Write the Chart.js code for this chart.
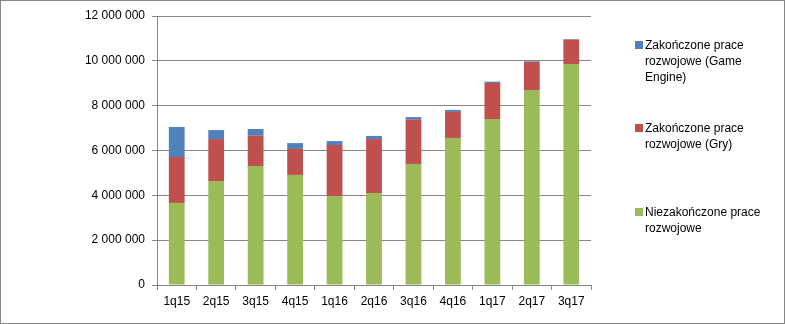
<!DOCTYPE html>
<html>
<head>
<meta charset="utf-8">
<script src="https://cdn.jsdelivr.net/npm/chart.js@4/dist/chart.umd.min.js"></script>
<style>
  body { margin: 0; background: #fff; }
  #wrap { position: relative; width: 785px; height: 324px; }
  #frame { position: absolute; left: 0; top: 0; width: 785px; height: 324px; box-sizing: border-box; border: 1px solid #868686; pointer-events: none; }
  #legend { position: absolute; left: 635px; top: 0; font: 12px "Liberation Sans", Arial, sans-serif; color: #000; }
  .item { position: absolute; left: 0; width: 135px; }
  .box { position: absolute; left: 0; top: 4px; width: 8px; height: 8px; }
  .txt { margin-left: 10px; line-height: 16px; width: 120px; }
</style>
</head>
<body>
<div id="wrap">
  <canvas id="investmentChart" width="785" height="324"></canvas>
  <div id="legend"></div>
  <div id="frame"></div>
</div>
<script>
// quarters
var quarters = ["1q15", "2q15", "3q15", "4q15", "1q16", "2q16", "3q16", "4q16", "1q17", "2q17", "3q17"];

// series values (PLN)
var niezakonczone = [3660000, 4640000, 5310000, 4910000, 3970000, 4100000, 5400000, 6560000, 7400000, 8700000, 9860000];
var zakonczoneGry = [2050000, 1870000, 1350000, 1160000, 2270000, 2410000, 1970000, 1160000, 1610000, 1250000, 1080000];
var zakonczoneEngine = [1340000, 400000, 300000, 260000, 180000, 140000, 120000, 90000, 60000, 30000, 30000];

var seriesNames = ["Niezakończone prace rozwojowe", "Zakończone prace rozwojowe (Gry)", "Zakończone prace rozwojowe (Game Engine)"];
var seriesColors = ["#9BBB59", "#C0504D", "#4F81BD"];

var gridColor = "#868686";
var font = { family: "'Liberation Sans', Arial, sans-serif", size: 12 };

function fmt(v) {
    return String(v).replace(/\B(?=(\d{3})+(?!\d))/g, " ");
}

var ctx = document.getElementById('investmentChart').getContext('2d');
var chart = new Chart(ctx, {
    type: 'bar',
    data: {
        labels: quarters,
        datasets: [
            { label: seriesNames[0], data: niezakonczone, backgroundColor: seriesColors[0] },
            { label: seriesNames[1], data: zakonczoneGry, backgroundColor: seriesColors[1] },
            { label: seriesNames[2], data: zakonczoneEngine, backgroundColor: seriesColors[2] }
        ]
    },
    options: {
        responsive: false,
        animation: false,
        layout: { padding: { left: 0, right: 194, top: 16, bottom: 0 } },
        datasets: { bar: { categoryPercentage: 1, barPercentage: 0.4 } },
        plugins: { legend: { display: false }, tooltip: { enabled: false } },
        scales: {
            x: {
                stacked: true,
                grid: { drawOnChartArea: false, offset: true, color: gridColor, tickLength: 5 },
                border: { color: gridColor },
                ticks: { color: "#000", font: font, padding: 4, maxRotation: 0 },
                afterFit: function (s) { s.height = 39; }
            },
            y: {
                stacked: true,
                min: 0,
                max: 12000000,
                grid: { color: gridColor, tickLength: 5 },
                border: { color: gridColor },
                ticks: { stepSize: 2000000, color: "#000", font: font, padding: 7, callback: function (v) { return fmt(v); } },
                afterFit: function (s) { s.width = 157; }
            }
        }
    }
});

// legend on the right, top entry = top of stack
var legendTops = [204, 120, 37];
var legend = document.getElementById('legend');
for (var i = seriesNames.length - 1; i >= 0; i--) {
    var item = document.createElement('div');
    item.className = 'item';
    item.style.top = legendTops[i] + 'px';
    item.innerHTML = '<div class="box" style="background:' + seriesColors[i] + '"></div><div class="txt"></div>';
    item.querySelector('.txt').textContent = seriesNames[i];
    legend.appendChild(item);
}
</script>
</body>
</html>
